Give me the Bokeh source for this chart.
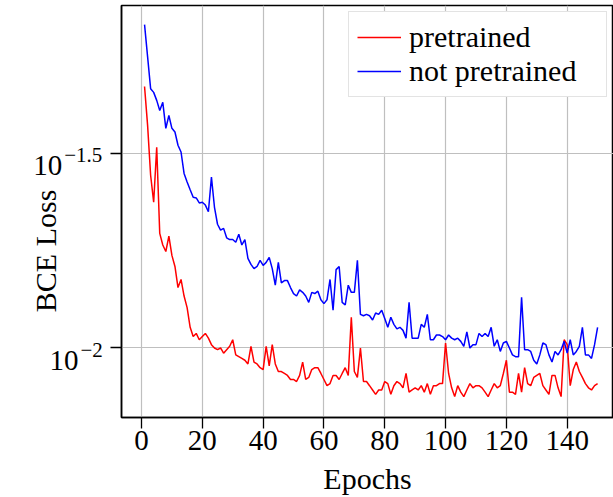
from bokeh.plotting import figure
from bokeh.layouts import row
from bokeh.models import FixedTicker, Legend, LegendItem, Range1d, CustomJSTickFormatter
from bokeh.core.properties import value
from bokeh.embed import file_html
from bokeh.resources import INLINE
import math

epochs = list(range(1, 151))

pretrained = [
    0.0470, 0.0374, 0.0278, 0.0237, 0.0328, 0.0197, 0.0184, 0.0177, 0.0194, 0.0173,
    0.0162, 0.0143, 0.0150, 0.0136, 0.0127, 0.0113, 0.0107, 0.0109, 0.0105, 0.0107,
    0.0109, 0.0106, 0.0102, 0.0100, 0.0099, 0.0100, 0.0097, 0.0099, 0.0101, 0.0105,
    0.0096, 0.0095, 0.0094, 0.0093, 0.0091, 0.0101, 0.0092, 0.0091, 0.0089, 0.0088,
    0.0101, 0.0090, 0.0102, 0.0091, 0.0087, 0.0087, 0.0086, 0.0085, 0.0083, 0.0083,
    0.0082, 0.0085, 0.0092, 0.0083, 0.0084, 0.0088, 0.0089, 0.0089, 0.0086, 0.0083,
    0.0080, 0.0081, 0.0085, 0.0085, 0.0083, 0.0086, 0.0089, 0.0085, 0.0120, 0.0087,
    0.0084, 0.0100, 0.0082, 0.0082, 0.0080, 0.0078, 0.0076, 0.0078, 0.0078, 0.0082,
    0.0081, 0.0076, 0.0080, 0.0082, 0.0081, 0.0079, 0.0086, 0.0077, 0.0078, 0.0079,
    0.0078, 0.0080, 0.0077, 0.0081, 0.0076, 0.0080, 0.0080, 0.0081, 0.0081, 0.0103,
    0.0086, 0.0079, 0.0075, 0.0080, 0.0077, 0.0075, 0.0078, 0.0081, 0.0079, 0.0080,
    0.0080, 0.0079, 0.0077, 0.0075, 0.0078, 0.0081, 0.0079, 0.0080, 0.0086, 0.0093,
    0.0077, 0.0077, 0.0076, 0.0086, 0.0077, 0.0089, 0.0081, 0.0080, 0.0084, 0.0085,
    0.0086, 0.0080, 0.0078, 0.0076, 0.0085, 0.0085, 0.0079, 0.0075, 0.0105, 0.0102,
    0.0080, 0.0088, 0.0092, 0.0087, 0.0084, 0.0081, 0.0079, 0.0078, 0.0080, 0.0081,
]

not_pretrained = [
    0.0678, 0.0561, 0.0464, 0.0454, 0.0433, 0.0408, 0.0428, 0.0367, 0.0396, 0.0367,
    0.0359, 0.0332, 0.0319, 0.0281, 0.0267, 0.0255, 0.0244, 0.0243, 0.0236, 0.0237,
    0.0233, 0.0224, 0.0275, 0.0230, 0.0208, 0.0201, 0.0203, 0.0192, 0.0190, 0.0190,
    0.0187, 0.0196, 0.0184, 0.0190, 0.0170, 0.0164, 0.0160, 0.0162, 0.0168, 0.0163,
    0.0166, 0.0171, 0.0160, 0.0145, 0.0166, 0.0147, 0.0149, 0.0149, 0.0143, 0.0138,
    0.0136, 0.0141, 0.0139, 0.0136, 0.0131, 0.0139, 0.0138, 0.0140, 0.0133, 0.0130,
    0.0133, 0.0150, 0.0125, 0.0159, 0.0162, 0.0131, 0.0129, 0.0145, 0.0139, 0.0139,
    0.0168, 0.0122, 0.0121, 0.0122, 0.0121, 0.0118, 0.0123, 0.0122, 0.0125, 0.0119,
    0.0113, 0.0120, 0.0115, 0.0112, 0.0113, 0.0111, 0.0106, 0.0131, 0.0106, 0.0106,
    0.0106, 0.0115, 0.0113, 0.0122, 0.0105, 0.0105, 0.0108, 0.0108, 0.0107, 0.0105,
    0.0108, 0.0106, 0.0105, 0.0106, 0.0104, 0.0101, 0.0110, 0.0100, 0.0102, 0.0102,
    0.0109, 0.0107, 0.0109, 0.0107, 0.0113, 0.0101, 0.0105, 0.0098, 0.0103, 0.0104,
    0.0100, 0.0096, 0.0095, 0.0095, 0.0135, 0.0099, 0.0099, 0.0098, 0.0093, 0.0091,
    0.0096, 0.0103, 0.0102, 0.0096, 0.0092, 0.0098, 0.0096, 0.0099, 0.0104, 0.0097,
    0.0105, 0.0096, 0.0098, 0.0101, 0.0113, 0.0096, 0.0096, 0.0094, 0.0102, 0.0113,
]

x_ticks = [0, 20, 40, 60, 80, 100, 120, 140]
y_ticks = [10 ** -2, 10 ** -1.5]
y_tick_base = ["10", "10"]
y_tick_exp = ["\u22122", "\u22121.5"]
series_labels = ["pretrained", "not pretrained"]
x_title = "Epochs"
y_title = "BCE Loss"

FONT = "Liberation Serif"
GRID = "#bfbfbf"
LEFT_W = 108
Y_LO, Y_HI = 0.006627, 0.07592
Y_RANGE = Range1d(Y_LO, Y_HI)

# ---------------- main plot ----------------
p = figure(width=613 - LEFT_W, height=497, y_axis_type="log",
           x_range=Range1d(-6.58, 155.23), y_range=Y_RANGE,
           output_backend="svg", toolbar_location=None,
           min_border_left=121 - LEFT_W, min_border_right=0, min_border_top=5,
           min_border_bottom=79)
p.background_fill_color = "white"
p.border_fill_color = "white"
p.outline_line_color = "black"
p.outline_line_width = 1.5

r1 = p.line(epochs, pretrained, line_color="#ff0000", line_width=1.5)
r2 = p.line(epochs, not_pretrained, line_color="#0000ff", line_width=1.5)

xa = p.xaxis[0]
xa.ticker = FixedTicker(ticks=x_ticks, minor_ticks=[])
xa.major_tick_in = 0
xa.major_tick_out = 11
xa.major_tick_line_width = 1.3
xa.minor_tick_line_color = None
xa.axis_line_width = 1.5
xa.major_label_text_font = FONT
xa.major_label_text_font_size = "29px"
xa.major_label_text_color = "black"
xa.major_label_standoff = 2
xa.axis_label = x_title
xa.axis_label_text_font = FONT
xa.axis_label_text_font_size = "30px"
xa.axis_label_text_font_style = "normal"
xa.axis_label_text_color = "black"
xa.axis_label_standoff = 9

ya = p.yaxis[0]
ya.ticker = FixedTicker(ticks=y_ticks, minor_ticks=[])
ya.formatter = CustomJSTickFormatter(code="return ''")
ya.major_tick_in = 0
ya.major_tick_out = 11
ya.major_tick_line_width = 1.3
ya.minor_tick_line_color = None
ya.axis_line_width = 1.5
ya.major_label_standoff = 0

p.xgrid.grid_line_color = GRID
p.ygrid.grid_line_color = GRID
p.xgrid.grid_line_width = 1.2
p.ygrid.grid_line_width = 1.2

legend = Legend(items=[LegendItem(label=series_labels[0], renderers=[r1]),
                       LegendItem(label=series_labels[1], renderers=[r2])],
                location="top_right")
legend.margin = 6
legend.padding = 8
legend.spacing = 0
legend.glyph_width = 44
legend.label_height = 30
legend.label_width = 189
legend.label_standoff = 8
legend.label_text_font = FONT
legend.label_text_font_size = "30px"
legend.label_text_color = "black"
legend.border_line_color = "#c8c8c8"
legend.border_line_width = 1.2
legend.background_fill_color = "white"
legend.background_fill_alpha = 1
p.add_layout(legend)

# ---------------- left strip: y tick labels and y title ----------------
left = figure(width=LEFT_W, height=497, y_axis_type="log",
              x_range=Range1d(0, LEFT_W), y_range=Y_RANGE,
              x_axis_location=None, y_axis_location=None,
              output_backend="svg", toolbar_location=None,
              min_border_left=0, min_border_right=0, min_border_top=5,
              min_border_bottom=79)
left.outline_line_color = None
left.xgrid.visible = False
left.ygrid.visible = False
left.background_fill_color = "white"
left.border_fill_color = "white"

base_right = [78, 61.7]   # pixel x of the right edge of "10"
left.text(x=base_right, y=y_ticks, text=y_tick_base,
          text_font=value(FONT), text_font_size=value("29px"),
          text_align="right", text_baseline="alphabetic",
          y_offset=12.5, text_color="black")
left.text(x=[b + 2 for b in base_right], y=y_ticks, text=y_tick_exp,
          text_font=value(FONT), text_font_size=value("21px"),
          text_align="left", text_baseline="alphabetic",
          y_offset=1.7, text_color="black")

# y title centred at pixel row ~251 of the picture
title_y = 10 ** (math.log10(Y_HI) - (251 - 5) / 413 *
                 (math.log10(Y_HI) - math.log10(Y_LO)))
left.text(x=[45], y=[title_y], text=[y_title], angle=math.pi / 2,
          text_font=value(FONT), text_font_size=value("30px"),
          text_align="center", text_baseline="middle", text_color="black")

layout = row(left, p)
open("out.html", "w").write(file_html(layout, INLINE))
